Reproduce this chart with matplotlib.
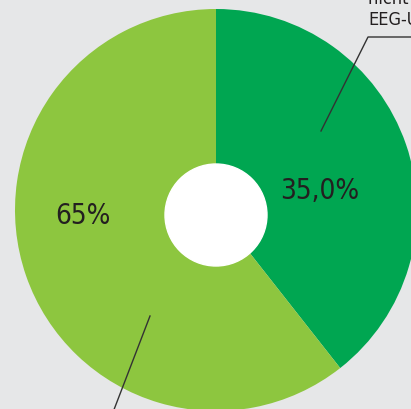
import matplotlib
matplotlib.use("Agg")
import matplotlib.pyplot as plt
from matplotlib.patches import Circle

# shares as drawn (wedge geometry) and the printed labels
segments = ["EEG-Umlage", "Rest"]
shares = [39.4, 60.6]
share_labels = ["35,0%", "65%"]
colors = ["#00a651", "#8dc63f"]
callout_lines = ["nicht privilegiert", "EEG-Umlage"]

bg = "#e6e7e8"
text_col = "#231f20"
font = ["Liberation Sans Narrow", "DejaVu Sans"]

fig = plt.figure(figsize=(4.11, 4.09), dpi=100)
fig.patch.set_facecolor(bg)
ax = fig.add_axes([0, 0, 1, 1])
ax.set_facecolor(bg)

# y axis is flipped below, so start at -90 and go counterclockwise in data space
ax.pie(shares, colors=colors, startangle=-90, counterclock=True,
       center=(216, 210), radius=201, wedgeprops=dict(linewidth=0))
ax.add_patch(Circle((216, 215), 51, color="white", zorder=3))

# pixel coordinates, y downward
ax.set_xlim(0, 411)
ax.set_ylim(409, 0)
ax.set_aspect("auto")
ax.axis("off")

ax.text(320, 191, share_labels[0], ha="center", va="center", fontsize=20,
        color=text_col, family=font, fontstretch="condensed")
ax.text(83, 216, share_labels[1], ha="center", va="center", fontsize=20,
        color=text_col, family=font, fontstretch="condensed")

# leader lines
ax.plot([321, 368, 420], [131, 37, 37], color="#333333", lw=1, zorder=4)
ax.plot([150, 110], [316, 420], color="#333333", lw=1, zorder=4)

ax.text(368, 4, callout_lines[0], ha="left", va="baseline", fontsize=13,
        color=text_col, family=font, fontstretch="condensed")
ax.text(368, 25, callout_lines[1], ha="left", va="baseline", fontsize=13,
        color=text_col, family=font, fontstretch="condensed")

fig.savefig("out.png", dpi=100, facecolor=bg)
